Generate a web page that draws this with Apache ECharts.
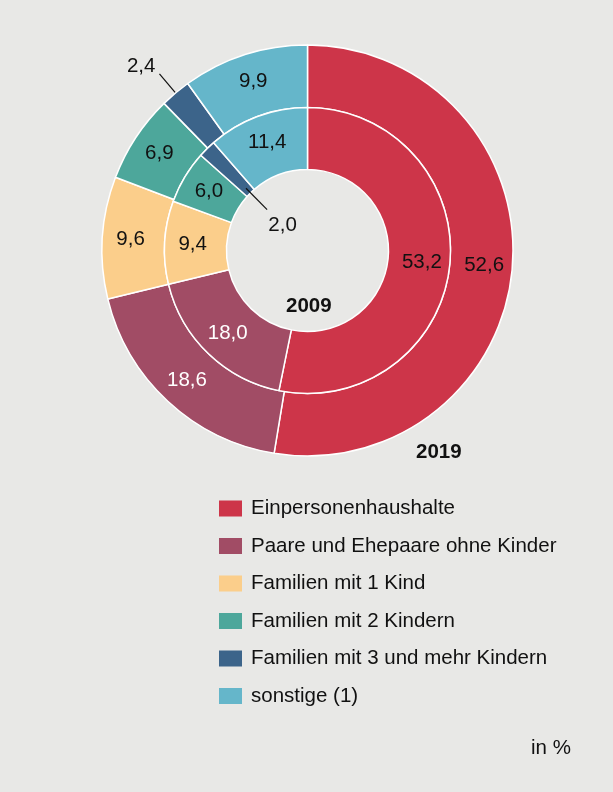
<!DOCTYPE html>
<html>
<head>
<meta charset="utf-8">
<style>
  html, body { margin: 0; padding: 0; background: #e8e8e6; }
  #main { width: 613px; height: 792px; }
</style>
<script src="https://cdn.jsdelivr.net/npm/echarts@6/dist/echarts.min.js"></script>
</head>
<body>
<div id="main"></div>
<script>
  // Haushaltstypen, Anteil in %
  var categories = ['Einpersonenhaushalte', 'Paare und Ehepaare ohne Kinder', 'Familien mit 1 Kind',
    'Familien mit 2 Kindern', 'Familien mit 3 und mehr Kindern', 'sonstige (1)']
  var values2019 = [52.6, 18.6, 9.6, 6.9, 2.4, 9.9]
  var values2009 = [53.2, 18.0, 9.4, 6.0, 2.0, 11.4]
  var colors = ['#cd3549', '#a14c65', '#fbce8b', '#4da79b', '#3c648a', '#65b6ca']

  var FONT = '"Liberation Sans", Arial, sans-serif'
  var FS = 20.5
  var center = [307.5, 250.5]

  function fmt(v) {
    return v.toFixed(1).replace('.', ',')
  }

  // daten für einen ring, kleines segment bekommt extra label
  function ringData(vals, small) {
    return vals.map(function (v, i) {
      var item = { name: categories[i], value: v, itemStyle: { color: colors[i] } }
      if (i === 1) item.label = { color: '#fff' }
      if (i === 4) item.label = small
      return item
    })
  }

  // unsichtbare hilfsringe für das 2,0 label im innern
  function helperData(vals, show) {
    return vals.map(function (v, i) {
      return {
        name: categories[i], value: v,
        label: { show: i === 4 && show },
        labelLine: { show: i === 4 && show }
      }
    })
  }

  var ringBase = {
    type: 'pie',
    center: center,
    startAngle: 90,
    clockwise: true,
    avoidLabelOverlap: false,
    silent: true,
    emphasis: { disabled: true },
    itemStyle: { borderColor: '#fff', borderWidth: 1.5 },
    label: {
      show: true,
      position: 'inside',
      formatter: function (p) { return fmt(p.value) },
      fontFamily: FONT,
      fontSize: FS,
      color: '#111'
    }
  }

  var option = {
    backgroundColor: '#e8e8e6',
    animation: false,
    legend: {
      data: categories,
      orient: 'vertical',
      left: 219,
      top: 498,
      padding: 0,
      itemWidth: 23,
      itemHeight: 16,
      itemGap: 16.5,
      icon: 'rect',
      selectedMode: false,
      itemStyle: { borderWidth: 0 },
      textStyle: { fontFamily: FONT, fontSize: FS, lineHeight: 20, color: '#111', padding: [0, 0, 0, 4] }
    },
    graphic: [
      { type: 'text', left: 286, top: 295.5, style: { text: '2009', font: 'bold ' + FS + 'px ' + FONT, fill: '#111' } },
      { type: 'text', left: 416, top: 442, style: { text: '2019', font: 'bold ' + FS + 'px ' + FONT, fill: '#111' } },
      { type: 'text', left: 531, top: 738, style: { text: 'in %', font: FS + 'px ' + FONT, fill: '#111' } }
    ],
    series: [
      Object.assign({}, ringBase, {
        name: '2019',
        radius: [143, 205.5],
        labelLine: { show: false },
        data: ringData(values2019, {
          show: true,
          position: 'outside',
          lineHeight: 14,
          formatter: function (p) { return fmt(p.value) + '\n ' },
          distanceToLabelLine: 4
        }).map(function (d, i) {
          if (i === 4) d.labelLine = { show: true, length: 25, length2: 0, lineStyle: { color: '#111', width: 1.2 } }
          return d
        })
      }),
      Object.assign({}, ringBase, {
        name: '2009',
        radius: [81, 143],
        labelLine: { show: false },
        data: ringData(values2009, { show: false })
      }),
      {
        type: 'pie',
        center: center,
        startAngle: 90,
        radius: [0, 65],
        silent: true,
        z: 3,
        avoidLabelOverlap: false,
        emphasis: { disabled: true },
        itemStyle: { color: 'rgba(0,0,0,0)', borderWidth: 0 },
        label: {
          position: 'inside',
          formatter: function (p) { return fmt(p.value) },
          fontFamily: FONT, fontSize: FS, color: '#111'
        },
        data: helperData(values2009, true)
      },
      {
        type: 'pie',
        center: center,
        startAngle: 90,
        radius: [0, 57.5],
        silent: true,
        z: 3,
        avoidLabelOverlap: false,
        emphasis: { disabled: true },
        itemStyle: { color: 'rgba(0,0,0,0)', borderWidth: 0 },
        label: { position: 'outside', formatter: ' ', fontSize: 10 },
        labelLine: { length: 30, length2: 0, lineStyle: { color: '#111', width: 1.2 } },
        data: helperData(values2009, true)
      }
    ]
  }

  var chart = echarts.init(document.getElementById('main'))
  chart.setOption(option)
  window.addEventListener('resize', function () { chart.resize() })
</script>
</body>
</html>
